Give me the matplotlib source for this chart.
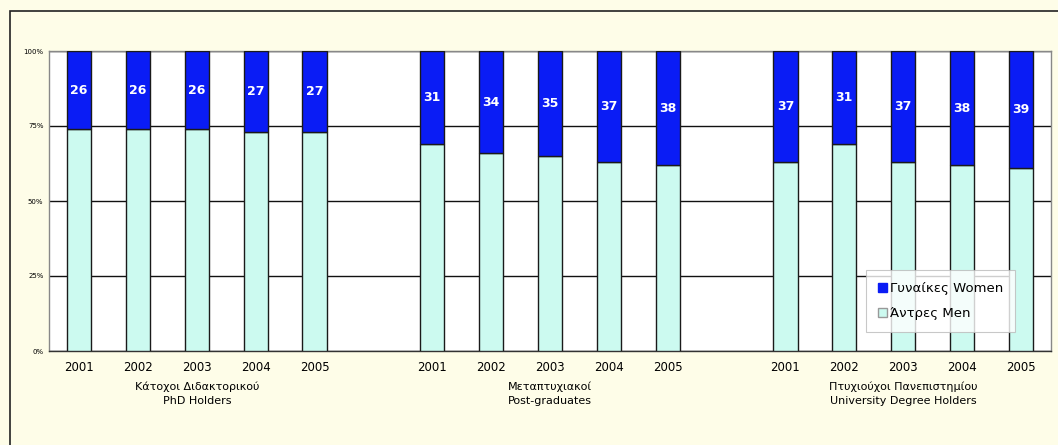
import matplotlib.pyplot as plt
import matplotlib.patches as mpatches
import numpy as np

# data
years = ["2001", "2002", "2003", "2004", "2005"]
groups = ["Κάτοχοι Διδακτορικού\nPhD Holders",
          "Μεταπτυχιακοί\nPost-graduates",
          "Πτυχιούχοι Πανεπιστημίου\nUniversity Degree Holders"]
women_phd = [26, 26, 26, 27, 27]
women_post = [31, 34, 35, 37, 38]
women_univ = [37, 31, 37, 38, 39]

women = np.array(women_phd + women_post + women_univ)
men = 100 - women

blue = '#0a1cf5'
cyan = '#ccfaf0'
cream = '#fefde8'

# bar positions: 5 bars per group, 2 empty slots between groups
pos = np.concatenate([np.arange(5) + 6 * g for g in range(3)])

fig = plt.figure(figsize=(10.58, 4.45), dpi=100, facecolor=cream)
fig.patches.append(mpatches.Rectangle((10 / 1058, -0.1), 1.2, 1 - 11 / 445 + 0.1,
                                      transform=fig.transFigure, fill=False,
                                      edgecolor='#222222', linewidth=1.2))
ax = fig.add_axes([49 / 1058, 1 - 351 / 445, (1051 - 49) / 1058, 300 / 445])
ax.set_facecolor('white')

w = 0.41
ax.bar(pos, men, w, color=cyan, edgecolor='#1a1a1a', linewidth=1.0, zorder=3, label='Άντρες Men')
ax.bar(pos, women, w, bottom=men, color=blue, edgecolor='#1a1a1a', linewidth=1.0, zorder=3,
       label='Γυναίκες Women')

for x, m, v in zip(pos, men, women):
    ax.text(x, m + v / 2, str(v), ha='center', va='center', color='white',
            fontsize=9, fontweight='semibold', zorder=4)

ax.set_xlim(-0.51, 16.51)
ax.set_ylim(0, 100)
ax.set_yticks([0, 25, 50, 75, 100])
ax.set_yticklabels(['0%', '25%', '50%', '75%', '100%'], fontsize=5)
ax.set_xticks(pos)
ax.set_xticklabels(years * 3, fontsize=8.5)
ax.tick_params(axis='both', length=0, pad=4)
ax.tick_params(axis='x', pad=7)
ax.yaxis.grid(True, color='#111111', linewidth=1.0, zorder=1)
for s in ax.spines.values():
    s.set_color('#888888')
    s.set_linewidth(1.0)
ax.spines['bottom'].set_color('#333333')

for g, name in enumerate(groups):
    ax.text(6 * g + 2, -10, name, ha='center', va='top', fontsize=8,
            linespacing=1.6, transform=ax.transData)

h, l = ax.get_legend_handles_labels()
leg = ax.legend(h[::-1], l[::-1], loc='lower right', bbox_to_anchor=(0.964, 0.063),
                borderaxespad=0, fontsize=9.5, frameon=True, fancybox=False,
                handlelength=0.7, handleheight=0.7, handletextpad=0.2,
                labelspacing=0.9, borderpad=0.9)
leg.get_frame().set_edgecolor('#bbbbbb')
leg.get_frame().set_linewidth(0.8)
leg.legend_handles[1].set_edgecolor('#999999')
leg.legend_handles[0].set_edgecolor(blue)

fig.savefig('out.png', dpi=100, facecolor=cream)
